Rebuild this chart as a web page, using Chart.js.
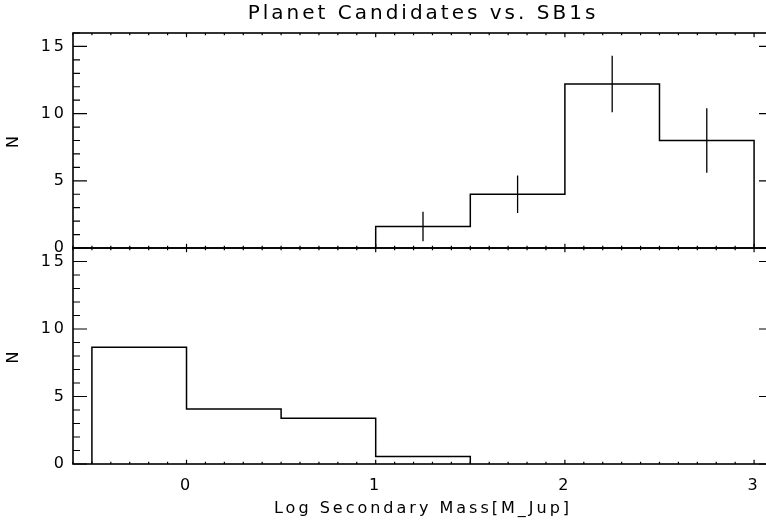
<!DOCTYPE html>
<html>
<head>
<meta charset="utf-8">
<script src="https://cdn.jsdelivr.net/npm/chart.js@4.4.1/dist/chart.umd.min.js"></script>
<style>
  html, body { margin: 0; padding: 0; background: #fff; }
  #wrap { position: relative; width: 766px; height: 522px; overflow: hidden; background: #fff; }
  #wrap canvas { position: absolute; left: 0; top: 0; }
</style>
</head>
<body>
<div id="wrap">
  <canvas id="chart1" width="780" height="522"></canvas>
  <canvas id="chart2" width="780" height="522"></canvas>
</div>
<script>
// #DATA
const planetEdges = [1, 1.5, 2, 2.5, 3];
const planetCounts = [1.6, 4.0, 12.2, 8.0];
const planetErrors = [1.1, 1.4, 2.1, 2.4];

const sb1Edges = [-0.5, 0, 0.5, 1, 1.5];
const sb1Counts = [8.65, 4.07, 3.38, 0.55];

const xRange = [-0.6, 3.1];
const yRange = [0, 16];
const xTickLabels = [0, 1, 2, 3];
const yTickLabels = [0, 5, 10, 15];

Chart.defaults.font.family = "'DejaVu Sans', sans-serif";
Chart.defaults.color = "#000";

// histogram outline, closed down to zero at both ends
function stepPoints(edges, counts) {
  const pts = [{ x: edges[0], y: 0 }];
  counts.forEach((c, i) => pts.push({ x: edges[i], y: c }));
  pts.push({ x: edges[edges.length - 1], y: counts[counts.length - 1] });
  pts.push({ x: edges[edges.length - 1], y: 0 });
  return pts;
}

// vertical error bars at bin centres, split by null gaps
function errorPoints(edges, counts, errs) {
  const pts = [];
  counts.forEach((c, i) => {
    const mid = (edges[i] + edges[i + 1]) / 2;
    pts.push({ x: mid, y: c - errs[i] }, { x: mid, y: c + errs[i] }, { x: mid, y: null });
  });
  return pts;
}

// IDL style box with inward ticks on all four sides
const idlAxes = {
  id: "idlAxes",
  afterDatasetsDraw(chart) {
    const { ctx, chartArea: a } = chart;
    const x = chart.scales.x, y = chart.scales.y;
    const xLen = 0.02 * (a.bottom - a.top);
    const yLen = 0.02 * (a.right - a.left);
    ctx.save();
    ctx.strokeStyle = "#000";
    ctx.lineWidth = 1.2;
    ctx.beginPath();
    for (let v = Math.ceil(xRange[0] * 10); v <= Math.floor(xRange[1] * 10); v++) {
      const px = x.getPixelForValue(v / 10);
      const len = v % 10 === 0 ? xLen : xLen / 2;
      ctx.moveTo(px, a.bottom); ctx.lineTo(px, a.bottom - len);
      ctx.moveTo(px, a.top); ctx.lineTo(px, a.top + len);
    }
    for (let v = yRange[0]; v <= yRange[1]; v++) {
      const py = y.getPixelForValue(v);
      const len = v % 5 === 0 ? yLen : yLen / 2;
      ctx.moveTo(a.left, py); ctx.lineTo(a.left + len, py);
      ctx.moveTo(a.right, py); ctx.lineTo(a.right - len, py);
    }
    ctx.stroke();
    ctx.lineWidth = 1.6;
    ctx.strokeRect(a.left, a.top, a.right - a.left, a.bottom - a.top);
    ctx.restore();
  }
};

const spacing = {
  id: "spacing",
  beforeUpdate(chart) { chart.ctx.letterSpacing = "3px"; }
};

function makeChart(id, edges, counts, errs, isTop) {
  const datasets = [{
    data: stepPoints(edges, counts),
    showLine: true,
    stepped: "before",
    borderColor: "#000",
    borderWidth: 1.5,
    pointRadius: 0
  }];
  if (errs) {
    datasets.push({
      data: errorPoints(edges, counts, errs),
      showLine: true,
      spanGaps: false,
      borderColor: "#000",
      borderWidth: 1.3,
      pointRadius: 0
    });
  }
  return new Chart(document.getElementById(id), {
    type: "scatter",
    data: { datasets: datasets },
    plugins: [spacing, idlAxes],
    options: {
      responsive: false,
      animation: false,
      layout: {
        padding: isTop ? { top: 0, right: 7, bottom: 274, left: 0 } : { top: 248, right: 7, bottom: 0, left: 0 }
      },
      plugins: {
        legend: { display: false },
        tooltip: { enabled: false },
        title: {
          display: isTop,
          text: "Planet Candidates vs. SB1s",
          fullSize: false,
          color: "#000",
          font: { size: 20, weight: "normal" },
          padding: { top: 2, bottom: 7 }
        }
      },
      scales: {
        x: {
          type: "linear",
          min: xRange[0],
          max: xRange[1],
          display: !isTop,
          afterBuildTicks: (s) => { s.ticks = xTickLabels.map((v) => ({ value: v })); },
          afterFit: (s) => { if (!isTop) s.height = 58; },
          grid: { display: false, drawTicks: false },
          border: { display: false },
          ticks: { padding: 12, maxRotation: 0, color: "#000", font: { size: 16 } },
          title: {
            display: true,
            text: "Log Secondary Mass[M_Jup]",
            color: "#000",
            font: { size: 16 },
            padding: { top: 0, bottom: 4 }
          }
        },
        y: {
          type: "linear",
          min: yRange[0],
          max: yRange[1],
          afterBuildTicks: (s) => { s.ticks = yTickLabels.map((v) => ({ value: v })); },
          afterFit: (s) => { s.width = 73; },
          grid: { display: false, drawTicks: false },
          border: { display: false },
          ticks: { padding: 6, color: "#000", font: { size: 16 } },
          title: {
            display: true,
            text: "N",
            color: "#000",
            font: { size: 16 },
            padding: { top: 4, bottom: 0 }
          }
        }
      }
    }
  });
}

makeChart("chart1", planetEdges, planetCounts, planetErrors, true);
makeChart("chart2", sb1Edges, sb1Counts, null, false);
</script>
</body>
</html>
